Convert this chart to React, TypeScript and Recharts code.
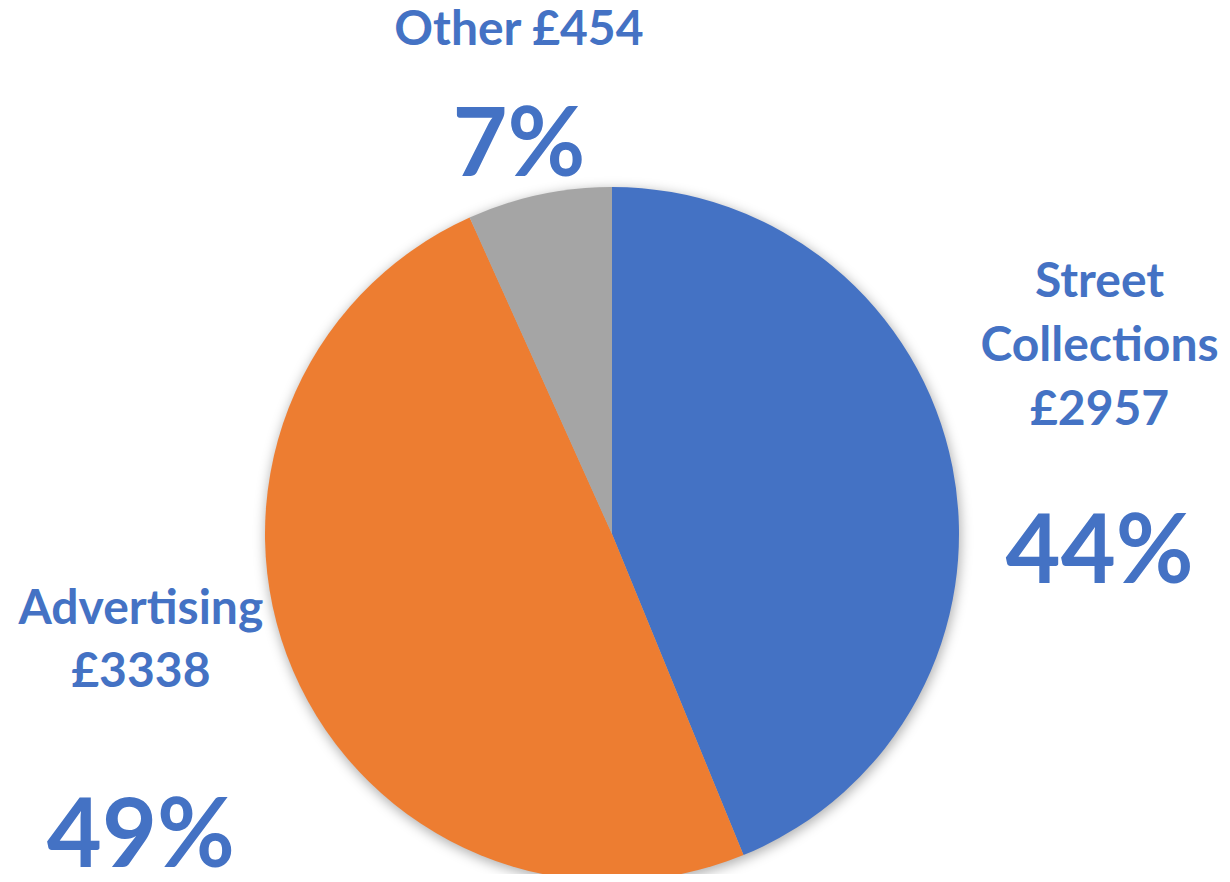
import { PieChart, Pie, Cell } from 'recharts';

// Income breakdown (GBP)
const categories = ['Street Collections', 'Advertising', 'Other'];
const amounts = [2957, 3338, 454];
const labelLines = [['Street', 'Collections', '£2957'], ['Advertising', '£3338'], ['Other £454']];
const colors = ['#4472C4', '#ED7D31', '#A5A5A5'];

const TEXT = '#4472C4';
const FONT = 'Lato, "Open Sans", sans-serif';
const RAD = Math.PI / 180;

// per-slice label layout: radial factor, angle nudge, horizontal nudge, baseline of first name line, baseline of percent
const labelLayout = [
  { k: 1.44, da: 1.5, dx: 0, nameDy: -128, lineH: 64, pctDy: 158 },
  { k: 1.47, da: -3.5, dx: 9, nameDy: -82, lineH: 63, pctDy: 161 },
  { k: 1.3, da: -0.2, dx: 0, nameDy: -48, lineH: 64, pctDy: 83 },
];

const data = categories.map((name, i) => ({ name, value: amounts[i] }));
const total = amounts.reduce((a, b) => a + b, 0);

function renderLabel(props: any) {
  const { cx, cy, outerRadius, midAngle, percent, index } = props;
  const lay = labelLayout[index];
  const r = outerRadius * lay.k;
  const a = (midAngle + lay.da) * RAD;
  const x = cx + r * Math.cos(a) + lay.dx;
  const y = cy - r * Math.sin(a);
  return (
    <g key={`lbl-${index}`}>
      {labelLines[index].map((line, j) => (
        <text
          key={j}
          x={x}
          y={y + lay.nameDy + j * lay.lineH}
          textAnchor="middle"
          fill={TEXT}
          fontFamily={FONT}
          fontWeight={700}
          fontSize={48}
        >
          {line}
        </text>
      ))}
      <text
        x={x}
        y={y + lay.pctDy}
        textAnchor="middle"
        fill={TEXT}
        fontFamily={FONT}
        fontWeight={700}
        fontSize={95}
      >
        {`${Math.round(percent * 100)}%`}
      </text>
    </g>
  );
}

export default function App() {
  return (
    <div style={{ margin: -8, width: 1230, height: 882, background: '#fff', position: 'relative' }}>
      <svg width={0} height={0} style={{ position: 'absolute' }}>
        <defs>
          <filter id="pieShadow" x="-20%" y="-20%" width="140%" height="140%">
            <feGaussianBlur stdDeviation="6" />
          </filter>
        </defs>
      </svg>
      <PieChart width={1230} height={882} margin={{ top: 0, right: 0, bottom: 0, left: 0 }}>
        <Pie
          data={[{ name: 'shadow', value: total }]}
          dataKey="value"
          cx={613}
          cy={537}
          outerRadius={348}
          startAngle={90}
          endAngle={-270}
          stroke="none"
          isAnimationActive={false}
          legendType="none"
        >
          <Cell fill="#000" fillOpacity={0.3} filter="url(#pieShadow)" />
        </Pie>
        <Pie
          data={data}
          dataKey="value"
          nameKey="name"
          cx={612}
          cy={534}
          outerRadius={347}
          startAngle={90}
          endAngle={-270}
          stroke="none"
          label={renderLabel}
          labelLine={false}
          isAnimationActive={false}
        >
          {data.map((d, i) => (
            <Cell key={d.name} fill={colors[i]} />
          ))}
        </Pie>
      </PieChart>
    </div>
  );
}
